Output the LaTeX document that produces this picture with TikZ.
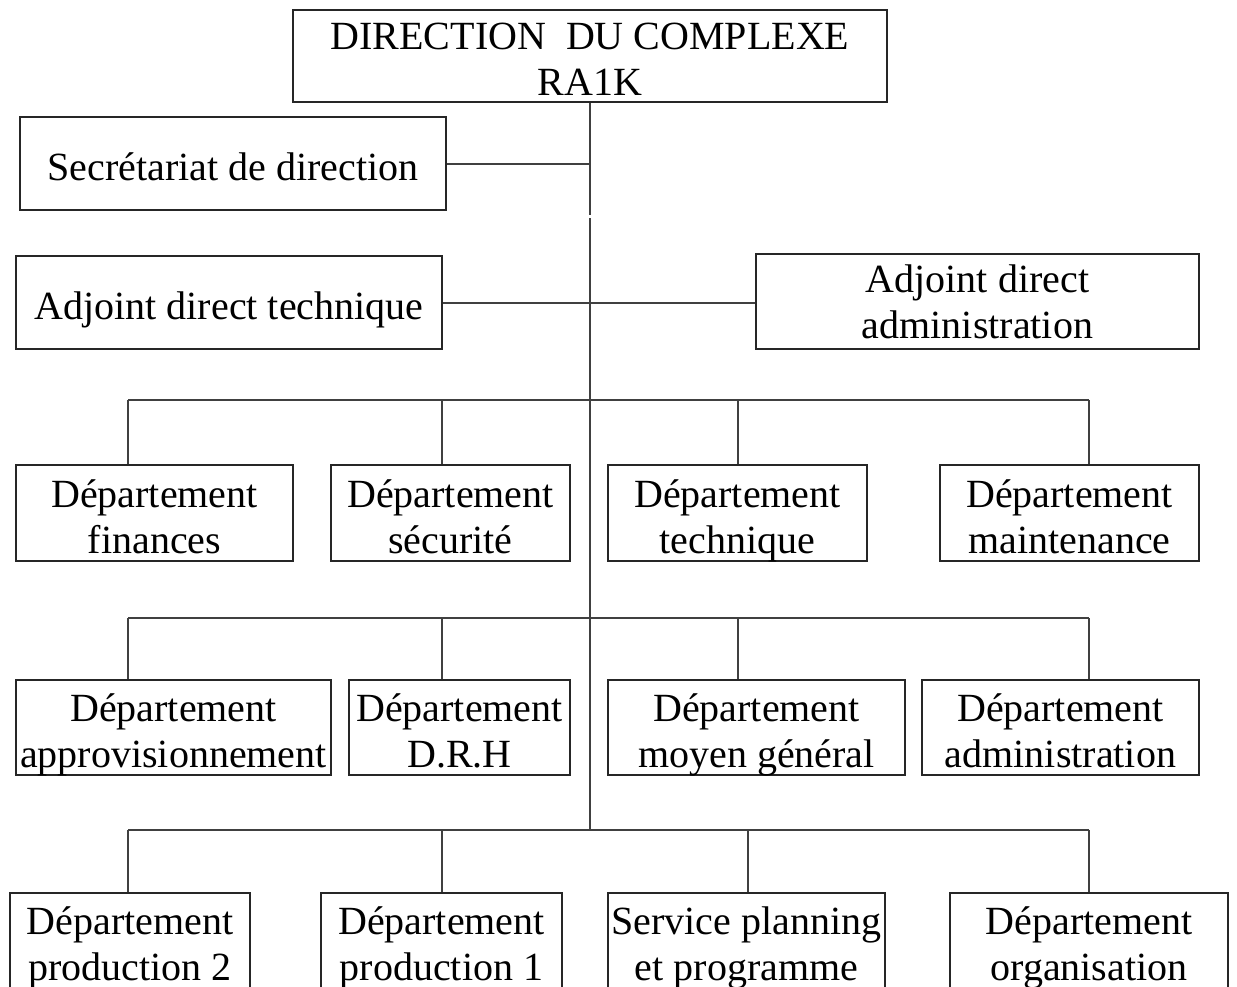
\documentclass[tikz,border=0pt]{standalone}
\usepackage{fontspec}
\setmainfont{Liberation Serif}
\newcommand{\twol}[2]{\strut #1\\#2\strut}
\begin{document}
\begin{tikzpicture}[x=0.5pt,y=-0.5pt,
  box/.style={draw=black!85, line width=1pt, inner sep=0pt},
  txt/.style={inner sep=0pt, align=center, font=\fontsize{20}{23}\selectfont},
  ln/.style={draw=black!75, line width=1pt}]
\useasboundingbox (0,0) rectangle (1237,986);
\clip (0,0) rectangle (1237,986);
% boxes
\node[box, minimum width=297pt, minimum height=46pt] (dir) at (590,56) {};
\node[box, minimum width=213pt, minimum height=46.5pt] (sec) at (233,163.5) {};
\node[box, minimum width=213pt, minimum height=46.5pt] (adjt) at (229,302.5) {};
\node[box, minimum width=221.5pt, minimum height=47.5pt] (adja) at (977.5,301.5) {};
\node[box, minimum width=138.5pt, minimum height=48pt] (fin) at (154.5,513) {};
\node[box, minimum width=119.5pt, minimum height=48pt] (secu) at (450.5,513) {};
\node[box, minimum width=129.5pt, minimum height=48pt] (tech) at (737.5,513) {};
\node[box, minimum width=129.5pt, minimum height=48pt] (maint) at (1069.5,513) {};
\node[box, minimum width=157.5pt, minimum height=47.5pt] (appro) at (173.5,727.5) {};
\node[box, minimum width=110.5pt, minimum height=47.5pt] (drh) at (459.5,727.5) {};
\node[box, minimum width=148.5pt, minimum height=47.5pt] (moy) at (756.5,727.5) {};
\node[box, minimum width=138.5pt, minimum height=47.5pt] (adm) at (1060.5,727.5) {};
\node[box, minimum width=120pt, minimum height=47.5pt] (prod2) at (130,940.5) {};
\node[box, minimum width=120.5pt, minimum height=47.5pt] (prod1) at (441.5,940.5) {};
\node[box, minimum width=138.5pt, minimum height=47.5pt] (serv) at (746.5,940.5) {};
\node[box, minimum width=139pt, minimum height=47.5pt] (org) at (1089,940.5) {};
% texts
\node[txt] (dirT) at ([yshift=-3.5pt]dir.center) {\twol{DIRECTION\ \ DU COMPLEXE}{RA1K}};
\node[txt] (secT) at ([yshift=-3.7pt]sec.center) {\strut Secrétariat de direction};
\node[txt] (adjtT) at ([yshift=-3.7pt]adjt.center) {\strut Adjoint direct technique};
\node[txt] (adjaT) at ([yshift=-2.4pt]adja.center) {\twol{Adjoint direct}{administration}};
\node[txt] (finT) at ([yshift=-3.9pt]fin.center) {\twol{Département}{finances}};
\node[txt] (secuT) at ([yshift=-3.9pt]secu.center) {\twol{Département}{sécurité}};
\node[txt] (techT) at ([yshift=-3.9pt]tech.center) {\twol{Département}{technique}};
\node[txt] (maintT) at ([yshift=-3.9pt]maint.center) {\twol{Département}{maintenance}};
\node[txt] (approT) at ([yshift=-3.9pt]appro.center) {\twol{Département}{approvisionnement}};
\node[txt] (drhT) at ([yshift=-3.9pt]drh.center) {\twol{Département}{D.R.H}};
\node[txt] (moyT) at ([yshift=-3.9pt]moy.center) {\twol{Département}{moyen général}};
\node[txt] (admT) at ([yshift=-3.9pt]adm.center) {\twol{Département}{administration}};
\node[txt] (prod2T) at ([yshift=-3.9pt]prod2.center) {\twol{Département}{production 2}};
\node[txt] (prod1T) at ([yshift=-3.9pt]prod1.center) {\twol{Département}{production 1}};
\node[txt] (servT) at ([yshift=-3.9pt]serv.center) {\twol{Service planning}{et programme}};
\node[txt] (orgT) at ([yshift=-3.9pt]org.center) {\twol{Département}{organisation}};
% trunk
\coordinate (t1) at (590,215);
\coordinate (t2) at (590,218);
\coordinate (t3) at (590,830);
\draw[ln] (dir.south) -- (t1);
\draw[ln] (t2) -- (t3);
\draw[ln] (sec.east) -- (sec.east -| dir.south);
\draw[ln] (adjt.east) -- (adjt.east -| adja.west);
% bus 1
\coordinate (a1) at (128,400); \coordinate (a2) at (442,400);
\coordinate (a3) at (738,400); \coordinate (a4) at (1089,400);
\draw[ln] (a1) -- (a4);
\draw[ln] (a1) -- (a1 |- fin.north);
\draw[ln] (a2) -- (a2 |- secu.north);
\draw[ln] (a3) -- (a3 |- tech.north);
\draw[ln] (a4) -- (a4 |- maint.north);
% bus 2
\coordinate (b1) at (128,618); \coordinate (b2) at (442,618);
\coordinate (b3) at (738,618); \coordinate (b4) at (1089,618);
\draw[ln] (b1) -- (b4);
\draw[ln] (b1) -- (b1 |- appro.north);
\draw[ln] (b2) -- (b2 |- drh.north);
\draw[ln] (b3) -- (b3 |- moy.north);
\draw[ln] (b4) -- (b4 |- adm.north);
% bus 3
\coordinate (c1) at (128,830); \coordinate (c2) at (442,830);
\coordinate (c3) at (748,830); \coordinate (c4) at (1089,830);
\draw[ln] (c1) -- (c4);
\draw[ln] (c1) -- (c1 |- prod2.north);
\draw[ln] (c2) -- (c2 |- prod1.north);
\draw[ln] (c3) -- (c3 |- serv.north);
\draw[ln] (c4) -- (c4 |- org.north);
\end{tikzpicture}
\end{document}
